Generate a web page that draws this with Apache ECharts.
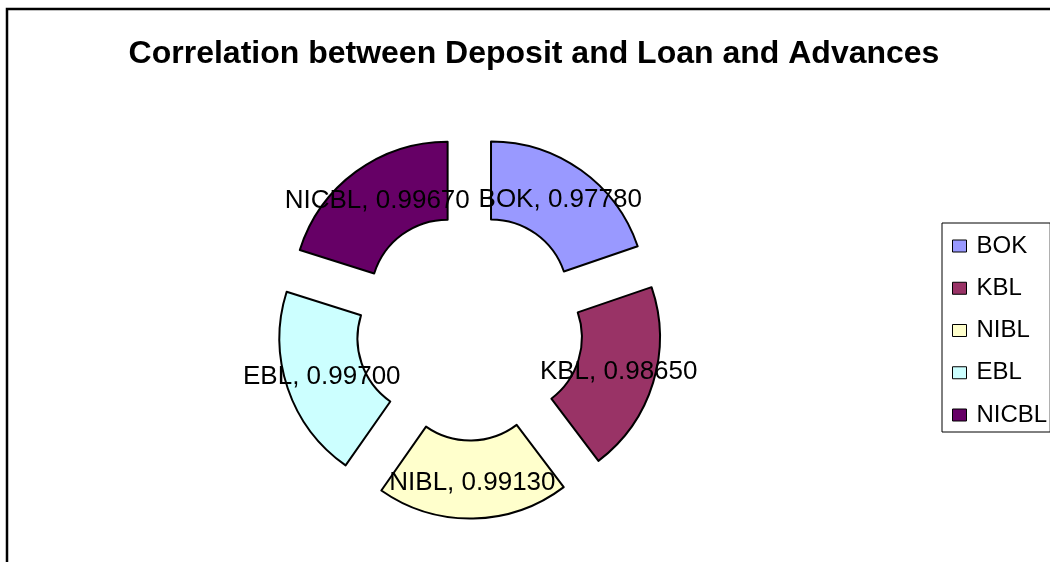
<!DOCTYPE html>
<html>
<head>
<meta charset="utf-8">
<script src="https://cdn.jsdelivr.net/npm/echarts@6/dist/echarts.min.js"></script>
<style>
  html, body { margin: 0; padding: 0; background: #fff; }
  #chart { width: 1050px; height: 562px; }
</style>
</head>
<body>
<div id="chart"></div>
<script>
let banks = ['BOK', 'KBL', 'NIBL', 'EBL', 'NICBL']
let correlation = [0.9778, 0.9865, 0.9913, 0.9970, 0.9967]
let colors = ['#9999FF', '#993366', '#FFFFCC', '#CCFFFF', '#660066']

let chart = echarts.init(document.getElementById('chart'))
let font = 'Liberation Sans, Arial, sans-serif'

let pieData = banks.map(function (name, i) {
    return {
        name: name,
        value: correlation[i],
        selected: true,
        itemStyle: { color: colors[i] }
    }
})

let option = {
    animation: false,
    title: {
        text: 'Correlation between Deposit and Loan and Advances',
        left: 529,
        textAlign: 'center',
        top: 33,
        textStyle: { fontFamily: font, fontSize: 32, fontWeight: 'bold', color: '#000' }
    },
    legend: {
        orient: 'vertical',
        left: 942,
        top: 223,
        data: banks,
        icon: 'rect',
        itemWidth: 14,
        itemHeight: 12,
        itemGap: 18.25,
        selectedMode: false,
        borderColor: '#000',
        borderWidth: 1,
        padding: [11, 3, 5, 10],
        itemStyle: { borderColor: '#000', borderWidth: 1 },
        textStyle: { fontFamily: font, fontSize: 24, lineHeight: 24, color: '#000', padding: [0, 0, 0, 5] }
    },
    graphic: [{
        type: 'rect',
        shape: { x: 7, y: 9, width: 1200, height: 700 },
        style: { fill: null, stroke: '#000', lineWidth: 2.5 },
        silent: true
    }],
    series: [{
        type: 'pie',
        center: [469.5, 326.5],
        radius: [77, 155],
        startAngle: 90,
        selectedMode: 'multiple',
        selectedOffset: 37,
        avoidLabelOverlap: false,
        labelLayout: { hideOverlap: false },
        data: pieData,
        itemStyle: { borderColor: '#000', borderWidth: 2 },
        label: {
            position: 'inside',
            fontFamily: font,
            fontSize: 26,
            color: '#000',
            offset: [0, 3],
            formatter: function (p) {
                return p.name + ', ' + p.value.toFixed(5)
            }
        },
        labelLine: { show: false },
        emphasis: { disabled: true },
        select: { itemStyle: { borderColor: '#000', borderWidth: 2 } }
    }]
}
chart.setOption(option)
</script>
</body>
</html>
